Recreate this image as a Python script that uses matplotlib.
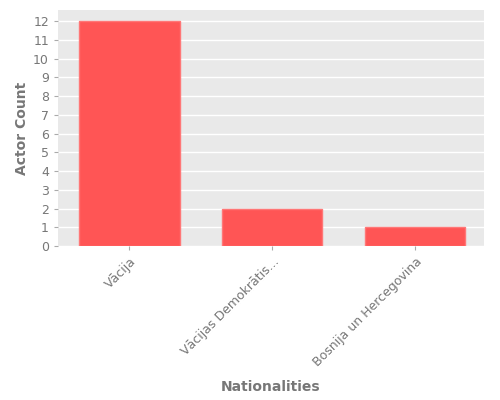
import matplotlib
matplotlib.use('Agg')
import matplotlib.pyplot as plt

countries = ['Vācija', 'Vācijas Demokrātis...', 'Bosnija un Hercegovina']
counts = [12, 2, 1]

txt = '#777777'

fig = plt.figure(figsize=(5, 4), dpi=100)
ax = fig.add_axes([0.116, 0.385, 0.852, 0.59])
ax.set_facecolor('#e9e9e9')

ax.bar(range(len(countries)), counts, width=0.7, color='#ff5555',
       edgecolor='#ff7777', linewidth=1)

ax.set_xlim(-0.5, 2.48)
ax.set_ylim(0, 12.6)
ax.set_yticks(range(0, 13))
ax.set_xticks(range(len(countries)))
ax.set_xticklabels(countries, rotation=45, ha='right', rotation_mode='anchor')

ax.grid(axis='y', color='white', linewidth=1)
ax.set_axisbelow(True)
for s in ax.spines.values():
    s.set_visible(False)

ax.tick_params(colors='#aaaaaa', labelcolor=txt, labelsize=9, length=3, width=0.8)
ax.set_ylabel('Actor Count', color=txt, fontsize=10, fontweight='bold', labelpad=3)
ax.set_xlabel('Nationalities', color=txt, fontsize=10, fontweight='bold', labelpad=8)

fig.savefig('out.png')
